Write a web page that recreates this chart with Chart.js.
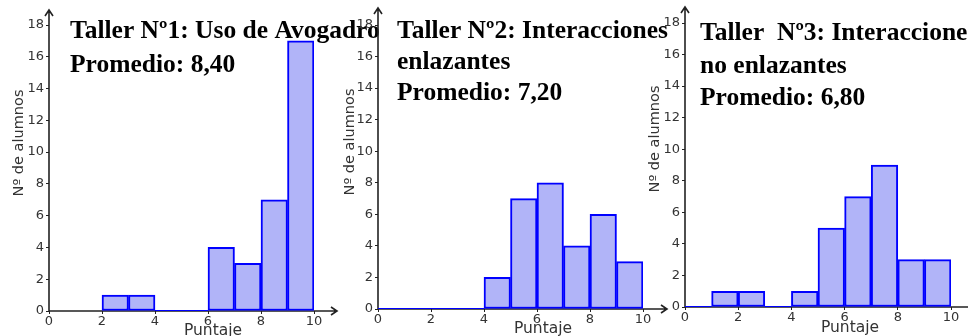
<!DOCTYPE html>
<html>
<head>
<meta charset="utf-8">
<script src="https://cdn.jsdelivr.net/npm/chart.js@4.4.1/dist/chart.umd.min.js"></script>
<style>
html, body { margin: 0; padding: 0; background: #fff; }
#wrap { position: relative; width: 968px; height: 336px; overflow: hidden; }
canvas { position: absolute; left: 0; top: 0; }
</style>
</head>
<body>
<div id="wrap">
  <canvas id="c1" width="968" height="336"></canvas>
  <canvas id="c2" width="968" height="336"></canvas>
  <canvas id="c3" width="968" height="336"></canvas>
</div>
<script>
// lower edge of each 1-point bin, and number of students in it
const bins1 = [2, 3, 4, 5, 6, 7, 8, 9];
const alumnos1 = [1, 1, 0, 0, 4, 3, 7, 17];
const bins2 = [0, 1, 2, 3, 4, 5, 6, 7, 8, 9];
const alumnos2 = [0, 0, 0, 0, 2, 7, 8, 4, 6, 3];
const bins3 = [0, 1, 2, 3, 4, 5, 6, 7, 8, 9];
const alumnos3 = [0, 1, 1, 0, 1, 5, 7, 9, 3, 3];

const titulo1 = ['Taller Nº1: Uso de Avogadro', 'Promedio: 8,40'];
const titulo2 = ['Taller Nº2: Interacciones', 'enlazantes', 'Promedio: 7,20'];
const titulo3 = ['Taller  Nº3: Interacciones', 'no enlazantes', 'Promedio: 6,80'];

const xTicks = [0, 2, 4, 6, 8, 10];
const yTicks = [0, 2, 4, 6, 8, 10, 12, 14, 16, 18];
const xTitle = 'Puntaje';
const yTitle = 'Nº de alumnos';

const BLUE = '#0000ff';
const FILL = '#b1b4f8';
const AXIS = '#222';
const TEXT = '#333';

// where each panel sits on the page
const panels = [
  { id: 'c1', bins: bins1, counts: alumnos1, titulo: titulo1,
    left: 49, right: 314, top: 25, bottom: 311, yTip: 10, xEnd: 337,
    titleX: 70, titleY: [38, 72], yLab: [19, 143], xLab: [213, 335] },
  { id: 'c2', bins: bins2, counts: alumnos2, titulo: titulo2,
    left: 378, right: 643, top: 25, bottom: 309, yTip: 8, xEnd: 667,
    titleX: 397, titleY: [38, 69, 100], yLab: [350, 142], xLab: [543, 333] },
  { id: 'c3', bins: bins3, counts: alumnos3, titulo: titulo3,
    left: 685, right: 951, top: 23, bottom: 307, yTip: 7, xEnd: 975,
    titleX: 700, titleY: [40, 73, 105], yLab: [655, 139], xLab: [850, 332] }
];

const deco = {
  id: 'deco',
  beforeDatasetsDraw(chart, args, o) {
    const ctx = chart.ctx;
    const x0 = chart.scales.x.getPixelForValue(0);
    const y0 = chart.scales.y.getPixelForValue(0);
    ctx.save();
    ctx.strokeStyle = AXIS;
    ctx.lineWidth = 1.6;
    ctx.beginPath();
    ctx.moveTo(x0, y0); ctx.lineTo(x0, o.yTip);
    ctx.moveTo(x0 - 4, o.yTip + 6); ctx.lineTo(x0, o.yTip); ctx.lineTo(x0 + 4, o.yTip + 6);
    ctx.moveTo(x0, y0); ctx.lineTo(o.xEnd, y0);
    ctx.moveTo(o.xEnd - 6, y0 - 4); ctx.lineTo(o.xEnd, y0); ctx.lineTo(o.xEnd - 6, y0 + 4);
    ctx.stroke();
    ctx.restore();
  },
  afterDraw(chart, args, o) {
    const ctx = chart.ctx;
    ctx.save();
    ctx.fillStyle = '#000';
    ctx.font = 'bold 25.5px "Liberation Serif"';
    ctx.textAlign = 'left';
    ctx.textBaseline = 'alphabetic';
    o.titulo.forEach((t, i) => ctx.fillText(t, o.titleX, o.titleY[i]));

    ctx.fillStyle = TEXT;
    ctx.font = '15.5px "DejaVu Sans"';
    ctx.textAlign = 'center';
    ctx.fillText(xTitle, o.xLab[0], o.xLab[1]);

    ctx.font = '14.5px "DejaVu Sans"';
    ctx.translate(o.yLab[0], o.yLab[1]);
    ctx.rotate(-Math.PI / 2);
    ctx.textBaseline = 'middle';
    ctx.fillText(yTitle, 0, 0);
    ctx.restore();
  }
};

function zeroRuns(bins, counts) {
  const runs = [];
  let start = null;
  counts.forEach((c, i) => {
    if (c === 0 && start === null) start = bins[i];
    if (c !== 0 && start !== null) { runs.push([start, bins[i]]); start = null; }
  });
  if (start !== null) runs.push([start, bins[bins.length - 1] + 1]);
  return runs;
}

panels.forEach(p => {
  const datasets = [{
    type: 'bar',
    data: p.bins.map((b, i) => ({ x: b + 0.5, y: p.counts[i] })),
    backgroundColor: FILL,
    borderColor: BLUE,
    borderWidth: 2,
    borderSkipped: false,
    barPercentage: 1,
    categoryPercentage: 1
  }];
  zeroRuns(p.bins, p.counts).forEach(r => {
    datasets.push({
      type: 'line',
      data: [{ x: r[0], y: 0 }, { x: r[1], y: 0 }],
      borderColor: BLUE,
      borderWidth: 2,
      pointRadius: 0
    });
  });

  new Chart(document.getElementById(p.id), {
    type: 'bar',
    data: { datasets: datasets },
    plugins: [deco],
    options: {
      responsive: false,
      animation: false,
      layout: { padding: { left: p.left - 30, right: 968 - p.right, top: p.top, bottom: 0 } },
      plugins: { legend: { display: false }, tooltip: { enabled: false }, deco: p },
      scales: {
        x: {
          type: 'linear', min: 0, max: 10, offset: false,
          afterBuildTicks: s => { s.ticks = xTicks.map(v => ({ value: v })); },
          afterFit: s => { s.height = 336 - p.bottom; },
          grid: { offset: false, drawOnChartArea: false, drawTicks: true, tickLength: 3, color: AXIS },
          border: { display: false },
          ticks: { color: TEXT, font: { family: 'DejaVu Sans', size: 13 }, padding: 0, maxRotation: 0 }
        },
        y: {
          type: 'linear', min: 0, max: 18,
          afterBuildTicks: s => { s.ticks = yTicks.map(v => ({ value: v })); },
          afterFit: s => { s.width = 30; },
          grid: { drawOnChartArea: false, drawTicks: true, tickLength: 3, color: AXIS },
          border: { display: false },
          ticks: { color: TEXT, font: { family: 'DejaVu Sans', size: 13 }, padding: 2 }
        }
      }
    }
  });
});
</script>
</body>
</html>
